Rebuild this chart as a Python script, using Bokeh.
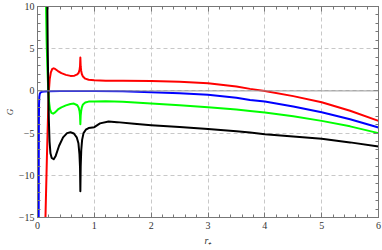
from bokeh.plotting import figure
from bokeh.models import LinearAxis, SingleIntervalTicker, Span, Range1d
from bokeh.embed import file_html
from bokeh.resources import INLINE

# ---- data ----
red_x = [0.14, 0.165, 0.185, 0.2, 0.215, 0.235, 0.26, 0.285, 0.31, 0.36, 0.42, 0.5, 0.58, 0.65, 0.70,
         0.725, 0.74, 0.748, 0.754, 0.76, 0.768, 0.78, 0.80, 0.84, 0.9, 1.0, 1.2, 1.5, 2.0, 2.5, 3.0,
         3.5, 3.74, 4.0, 4.5, 5.0, 5.5, 6.0]
red_y = [-15, -8, -3, 0, 1.4, 2.2, 2.6, 2.68, 2.6, 2.35, 2.1, 1.9, 1.78, 1.8, 1.95,
         2.15, 2.5, 2.9, 3.95, 2.9, 2.4, 2.0, 1.7, 1.45, 1.33, 1.25, 1.2, 1.19, 1.18, 1.08, 0.91,
         0.52, 0.24, 0.0, -0.62, -1.34, -2.35, -3.55]

green_x = [0.148, 0.16, 0.175, 0.19, 0.205, 0.22, 0.245, 0.275, 0.31, 0.36, 0.42, 0.5, 0.58, 0.64, 0.70,
           0.725, 0.74, 0.748, 0.754, 0.76, 0.768, 0.78, 0.80, 0.84, 0.9, 1.0, 1.2, 1.5, 2.0, 2.5, 3.0,
           3.5, 3.74, 4.0, 4.5, 5.0, 5.5, 6.0]
green_y = [11, 6, 2.5, 0, -1.4, -2.2, -2.6, -2.7, -2.55, -2.2, -1.95, -1.72, -1.55, -1.5, -1.7,
           -2.0, -2.4, -2.9, -3.95, -2.9, -2.4, -1.95, -1.6, -1.38, -1.27, -1.25, -1.22, -1.3, -1.5, -1.7, -1.93,
           -2.2, -2.37, -2.56, -3.0, -3.55, -4.2, -5.0]

blue_x = [0.021, 0.022, 0.024, 0.027, 0.032, 0.04, 0.055, 0.08, 0.12, 0.2, 0.4, 0.7, 1.0, 1.5, 2.0,
          2.5, 3.0, 3.5, 3.74, 4.0, 4.5, 5.0, 5.5, 6.0]
blue_y = [-16, -10, -4, -1.6, -0.7, -0.35, -0.18, -0.1, -0.06, -0.03, -0.01, 0, 0, -0.05, -0.15,
          -0.28, -0.47, -0.8, -1.07, -1.26, -1.85, -2.53, -3.35, -4.34]

black_x = [0.172, 0.18, 0.19, 0.2, 0.212, 0.228, 0.25, 0.285, 0.32, 0.38, 0.45, 0.52, 0.58, 0.64, 0.69,
           0.72, 0.738, 0.748, 0.754, 0.76, 0.77, 0.785, 0.81, 0.85, 0.9, 1.0, 1.1, 1.25, 1.4, 1.7, 2.0,
           2.5, 3.0, 3.5, 3.74, 4.0, 4.5, 5.0, 5.5, 6.0]
black_y = [11, 5, 0, -3.5, -6, -7.4, -7.95, -8.1, -7.7, -6.5, -5.5, -5.0, -4.9, -5.05, -5.5,
           -6.2, -7.5, -9, -11.9, -9, -7, -5.8, -5.0, -4.6, -4.4, -4.3, -3.85, -3.63, -3.7, -3.9, -4.06,
           -4.28, -4.5, -4.78, -4.93, -5.13, -5.4, -5.68, -6.1, -6.6]

y_labels = {-15: "\u221215", -10: "\u221210", -5: "\u22125", 0: "0", 5: "5", 10: "10"}
x_label = "r\u208a"
y_label = "G"

FONT = "Liberation Serif"
FRAME = "#777777"

p = figure(width=382, height=250, output_backend="svg", toolbar_location=None,
           x_range=Range1d(0, 6), y_range=Range1d(-15, 10),
           min_border_left=37, min_border_right=4, min_border_top=6, min_border_bottom=33)
p.background_fill_color = "white"
p.border_fill_color = "white"
p.outline_line_color = FRAME
p.outline_line_width = 1

xt = SingleIntervalTicker(interval=1, num_minor_ticks=5)
yt = SingleIntervalTicker(interval=5, num_minor_ticks=5)
p.xaxis.ticker = xt
p.yaxis.ticker = yt
p.xgrid.ticker = xt
p.ygrid.ticker = yt

for g in (p.xgrid, p.ygrid):
    g.grid_line_color = "#c8c8c8"
    g.grid_line_dash = "4 3"
    g.grid_line_width = 1


def style_axis(ax, labels=True):
    ax.axis_line_color = FRAME
    ax.major_tick_line_color = FRAME
    ax.minor_tick_line_color = FRAME
    ax.major_tick_in = 5
    ax.major_tick_out = 0
    ax.minor_tick_in = 3
    ax.minor_tick_out = 0
    ax.major_label_text_font = FONT
    ax.major_label_text_font_size = "10px"
    ax.major_label_text_color = "#333333"
    ax.major_label_standoff = 3
    ax.axis_label_text_font = FONT
    ax.axis_label_text_font_size = "10px"
    ax.axis_label_text_font_style = "italic"
    ax.axis_label_text_color = "#333333"
    ax.axis_label_standoff = 1
    if not labels:
        ax.major_label_text_color = None
        ax.major_label_text_font_size = "1px"
        ax.major_label_standoff = 0


style_axis(p.xaxis[0])
style_axis(p.yaxis[0])
p.xaxis.axis_label = x_label
p.yaxis.axis_label = y_label
p.yaxis.axis_label_text_font_size = "9px"
p.yaxis.major_label_overrides = y_labels
p.xaxis.major_label_standoff = 4
p.xaxis.axis_label_standoff = 3

top = LinearAxis(ticker=SingleIntervalTicker(interval=1, num_minor_ticks=5))
right = LinearAxis(ticker=SingleIntervalTicker(interval=5, num_minor_ticks=5))
style_axis(top, labels=False)
style_axis(right, labels=False)
p.add_layout(top, "above")
p.add_layout(right, "right")

p.add_layout(Span(location=0, dimension="width", line_color="#9a9a9a", line_width=1))

p.line(red_x, red_y, line_color="#ff0000", line_width=2, line_join="round")
p.line(green_x, green_y, line_color="#00ff00", line_width=2, line_join="round")
p.line(blue_x, blue_y, line_color="#0000ff", line_width=2, line_join="round")
p.line(black_x, black_y, line_color="#000000", line_width=2, line_join="round")

open("out.html", "w").write(file_html(p, INLINE))
